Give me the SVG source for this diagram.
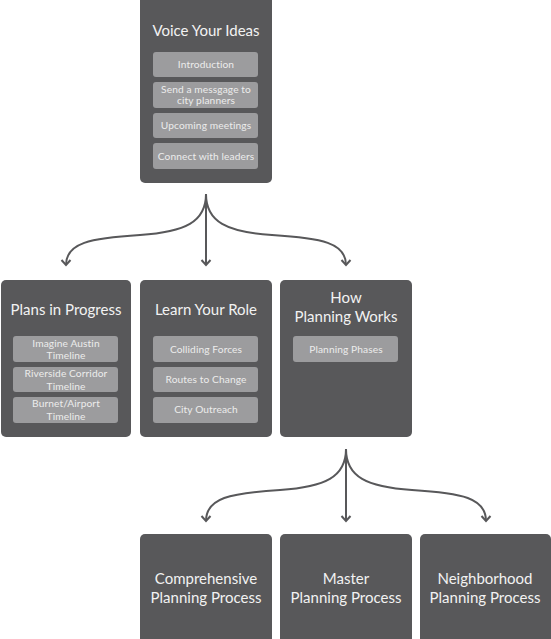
<svg xmlns="http://www.w3.org/2000/svg" width="551" height="639" viewBox="0 0 551 639">
<style>
.box{fill:#58585a;}
.sub{fill:#9c9c9e;}
.t{font-family:Lato,"Open Sans",sans-serif;font-size:15px;fill:#f2f2f2;text-anchor:middle;}
.s{font-family:Lato,"Open Sans",sans-serif;font-size:10.2px;fill:#ececec;text-anchor:middle;letter-spacing:0.1px;}
.c{fill:none;stroke:#58585a;stroke-width:2;}
</style>
<defs>
<marker id="ah" markerUnits="userSpaceOnUse" viewBox="-7 -6 9 12" markerWidth="9" markerHeight="12" refX="0" refY="0" orient="auto">
<path d="M-5,-4.5 L0,0 L-5,4.5" fill="none" stroke="#58585a" stroke-width="2"/>
</marker>
</defs>
<rect width="551" height="639" fill="#ffffff"/>
<g id="connectors">
<path class="c" d="M206,194 L206,265" marker-end="url(#ah)"/>
<path class="c" d="M206,194 C206,222 185,232 140,235 C90,238 66,243 66,265" marker-end="url(#ah)"/>
<path class="c" d="M206,194 C206,222 227,232 272,235 C322,238 346,243 346,265" marker-end="url(#ah)"/>
<path class="c" d="M346,449 L346,521" marker-end="url(#ah)"/>
<path class="c" d="M346,449 C346,477 325,487 280,490 C230,493 206,498 206,521" marker-end="url(#ah)"/>
<path class="c" d="M346,449 C346,477 367,487 412,490 C462,493 486,498 486,521" marker-end="url(#ah)"/>
</g>
<g id="voice">
<rect class="box" x="140" y="-6" width="132" height="189" rx="5"/>
<text class="t" x="206" y="36">Voice Your Ideas</text>
<rect class="sub" x="153" y="52" width="105" height="25" rx="3"/>
<text class="s" x="206" y="68">Introduction</text>
<rect class="sub" x="153" y="82" width="105" height="26" rx="3"/>
<text class="s" x="206" y="92.5">Send a messgage to</text>
<text class="s" x="206" y="104">city planners</text>
<rect class="sub" x="153" y="113" width="105" height="25" rx="3"/>
<text class="s" x="206" y="129">Upcoming meetings</text>
<rect class="sub" x="153" y="143" width="105" height="26" rx="3"/>
<text class="s" x="206" y="159.5">Connect with leaders</text>
</g>
<g id="plans">
<rect class="box" x="1" y="280" width="130" height="157" rx="5"/>
<text class="t" x="66" y="315">Plans in Progress</text>
<rect class="sub" x="13" y="336" width="105" height="26" rx="3"/>
<text class="s" x="66" y="346.5">Imagine Austin</text>
<text class="s" x="66" y="359">Timeline</text>
<rect class="sub" x="13" y="367" width="105" height="25" rx="3"/>
<text class="s" x="66" y="377">Riverside Corridor</text>
<text class="s" x="66" y="390">Timeline</text>
<rect class="sub" x="13" y="397" width="105" height="26" rx="3"/>
<text class="s" x="66" y="407">Burnet/Airport</text>
<text class="s" x="66" y="420">Timeline</text>
</g>
<g id="learn">
<rect class="box" x="140" y="280" width="132" height="157" rx="5"/>
<text class="t" x="206" y="315">Learn Your Role</text>
<rect class="sub" x="153" y="336" width="105" height="26" rx="3"/>
<text class="s" x="206" y="352.5">Colliding Forces</text>
<rect class="sub" x="153" y="367" width="105" height="25" rx="3"/>
<text class="s" x="206" y="383">Routes to Change</text>
<rect class="sub" x="153" y="397" width="105" height="26" rx="3"/>
<text class="s" x="206" y="413">City Outreach</text>
</g>
<g id="how">
<rect class="box" x="280" y="280" width="132" height="157" rx="5"/>
<text class="t" x="346" y="303">How</text>
<text class="t" x="346" y="322">Planning Works</text>
<rect class="sub" x="293" y="336" width="105" height="26" rx="3"/>
<text class="s" x="346" y="352.5">Planning Phases</text>
</g>
<g id="comprehensive">
<rect class="box" x="140" y="534" width="132" height="112" rx="5"/>
<text class="t" x="206" y="584">Comprehensive</text>
<text class="t" x="206" y="603">Planning Process</text>
</g>
<g id="master">
<rect class="box" x="280" y="534" width="132" height="112" rx="5"/>
<text class="t" x="346" y="584">Master</text>
<text class="t" x="346" y="603">Planning Process</text>
</g>
<g id="neighborhood">
<rect class="box" x="420" y="534" width="131" height="112" rx="5"/>
<text class="t" x="485" y="584">Neighborhood</text>
<text class="t" x="485" y="603">Planning Process</text>
</g>
</svg>
